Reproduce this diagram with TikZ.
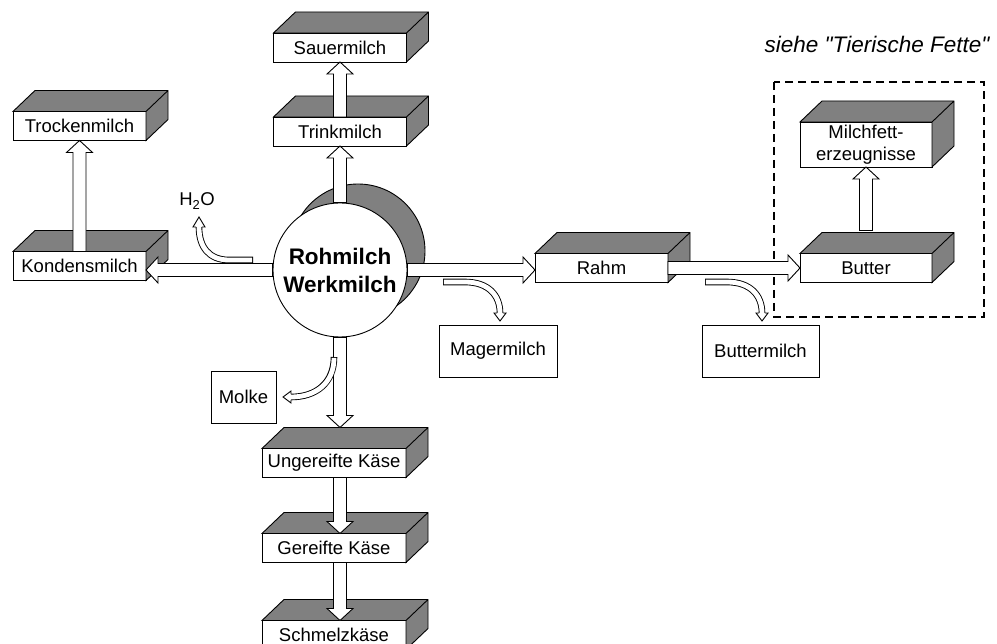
\documentclass[tikz,border=0pt]{standalone}
\usepackage{fontspec}
\setmainfont{Liberation Sans}[Ligatures=TeXOff]
\usetikzlibrary{calc}
\definecolor{boxgray}{gray}{0.5}
\tikzset{
  box/.style={draw, fill=white, minimum width=133pt, minimum height=29pt, inner sep=0pt, outer sep=0pt, font=\fontsize{18.5}{21.5}\selectfont},
  plainbox/.style={box, minimum width=118pt, minimum height=52pt},
  blockarrow/.style={fill=white, to path={($(\tikztostart)!6.5pt!90:(\tikztotarget)$) -- ($(\tikztotarget)!12pt!(\tikztostart)!6.5pt!-90:(\tikztostart)$) -- ($(\tikztotarget)!12pt!(\tikztostart)!13pt!-90:(\tikztostart)$) -- (\tikztotarget) -- ($(\tikztotarget)!12pt!(\tikztostart)!13pt!90:(\tikztostart)$) -- ($(\tikztotarget)!12pt!(\tikztostart)!6.5pt!90:(\tikztostart)$) -- ($(\tikztostart)!6.5pt!-90:(\tikztotarget)$) -- cycle}},
  curvedshaft/.style={line width=6.6pt, postaction={draw=white, line width=4.8pt, shorten <=.9pt}},
  smallhead/.style={fill=white, to path={($(\tikztostart)!2.85pt!90:(\tikztotarget)$) -- ($(\tikztostart)!6pt!90:(\tikztotarget)$) -- (\tikztotarget) -- ($(\tikztostart)!6pt!-90:(\tikztotarget)$) -- ($(\tikztostart)!2.85pt!-90:(\tikztotarget)$)}},
  dashbox/.style={dash pattern=on 8pt off 5pt, line width=1.6pt}
}
\begin{document}
\begin{tikzpicture}[x=1pt, y=-1pt, line width=.9pt]
\useasboundingbox (0,0) rectangle (997,644);
\node[circle, draw, fill=boxgray, minimum size=134pt, inner sep=0pt] (rosback) at (358,251) {};
\node[circle, draw, fill=white, minimum size=134pt, inner sep=0pt, align=center, font=\bfseries\fontsize{22.5}{28}\selectfont] (ros) at (340,270) {Rohmilch\\Werkmilch};
\node[box] (sauer) at (340,47.5) {Sauermilch};
\node[box] (trink) at (340,131.5) {Trinkmilch};
\node[box] (trocken) at (79.5,126) {Trockenmilch};
\node[box] (konden) at (79.5,266) {Kondensmilch};
\node[box] (rahm) at (601.5,268) {Rahm};
\node[box, minimum width=132pt] (butter) at (866,268) {Butter};
\node[box, minimum width=132pt, minimum height=45pt, align=center] (fett) at (866,144.5) {Milchfett-\\erzeugnisse};
\node[box, minimum width=144pt] (unreif) at (334,463) {Ungereifte Käse};
\node[box, minimum width=144pt] (reif) at (334,548) {Gereifte Käse};
\node[box, minimum width=144pt] (schmelz) at (334,635) {Schmelzkäse};
\foreach \b in {sauer,trink,trocken,konden,rahm,butter,fett,unreif,reif,schmelz}
  \draw[fill=boxgray] (\b.north west) -- ++(22,-21) -| ($(\b.south east)+(22,-21)$) -- (\b.south east) -- (\b.north east) -- cycle (\b.north east) -- ++(22,-21);
\node[plainbox] (mager) at (498,351) {Magermilch};
\node[plainbox, minimum width=117pt] (bmilch) at (760.5,351) {Buttermilch};
\node[plainbox, minimum width=65pt] (molke) at (243.5,397) {Molke};
\draw[dashbox] (774,82) rectangle (984,317);
\node[font=\itshape\fontsize{22.5}{26}\selectfont] (siehe) at (877,44) {siehe "Tierische Fette"};
\coordinate (kin) at (ros.west -| konden.east);
\coordinate (rin) at (ros.east -| rahm.west);
\coordinate (bout) at ($(butter.north)+(0,-23)$);
\coordinate (uin) at ($(ros.south |- unreif.north)+(0,-21)$);
\coordinate (uout) at (ros.south |- unreif.south);
\coordinate (rin2) at (ros.south |- reif.north);
\coordinate (rout) at (ros.south |- reif.south);
\coordinate (sin) at (ros.south |- schmelz.north);
\draw[blockarrow] (ros.north) to (trink.south);
\draw[blockarrow] (trink.north) to (sauer.south);
\draw[blockarrow] (konden.north) to (trocken.south);
\draw[blockarrow] (ros.west) to (kin);
\draw[blockarrow] (ros.east) to (rin);
\draw[blockarrow] (rahm.east) to (butter.west);
\draw[blockarrow] (bout) to (fett.south);
\draw[blockarrow] (ros.south) to (uin);
\draw[blockarrow] (uout) to (rin2);
\draw[blockarrow] (rout) to (sin);
\coordinate (h0) at (253,260);
\coordinate (h1) at (199,227);
\coordinate (h2) at (199,217);
\draw[curvedshaft] (h0) -- (229,260) .. controls (209,260) and (199,247) .. (h1);
\draw[smallhead] (h1) to (h2);
\node[font=\fontsize{18.5}{21.5}\selectfont] (h2o) at (197,201) {H\textsubscript{2}O};
\coordinate (m0) at (443,282);
\coordinate (m1) at (500,313);
\coordinate (m2) at (500,321);
\draw[curvedshaft] (m0) -- (465,282) .. controls (488,282) and (500,295) .. (m1);
\draw[smallhead] (m1) to (m2);
\coordinate (b0) at (705,282);
\coordinate (b1) at (762,313);
\coordinate (b2) at (762,321);
\draw[curvedshaft] (b0) -- (727,282) .. controls (750,282) and (762,295) .. (b1);
\draw[smallhead] (b1) to (b2);
\coordinate (k0) at (334,357);
\coordinate (k1) at (291,397);
\coordinate (k2) at (283,397);
\draw[curvedshaft] (k0) .. controls (334,383) and (316,397) .. (k1);
\draw[smallhead] (k1) to (k2);
\end{tikzpicture}
\end{document}
